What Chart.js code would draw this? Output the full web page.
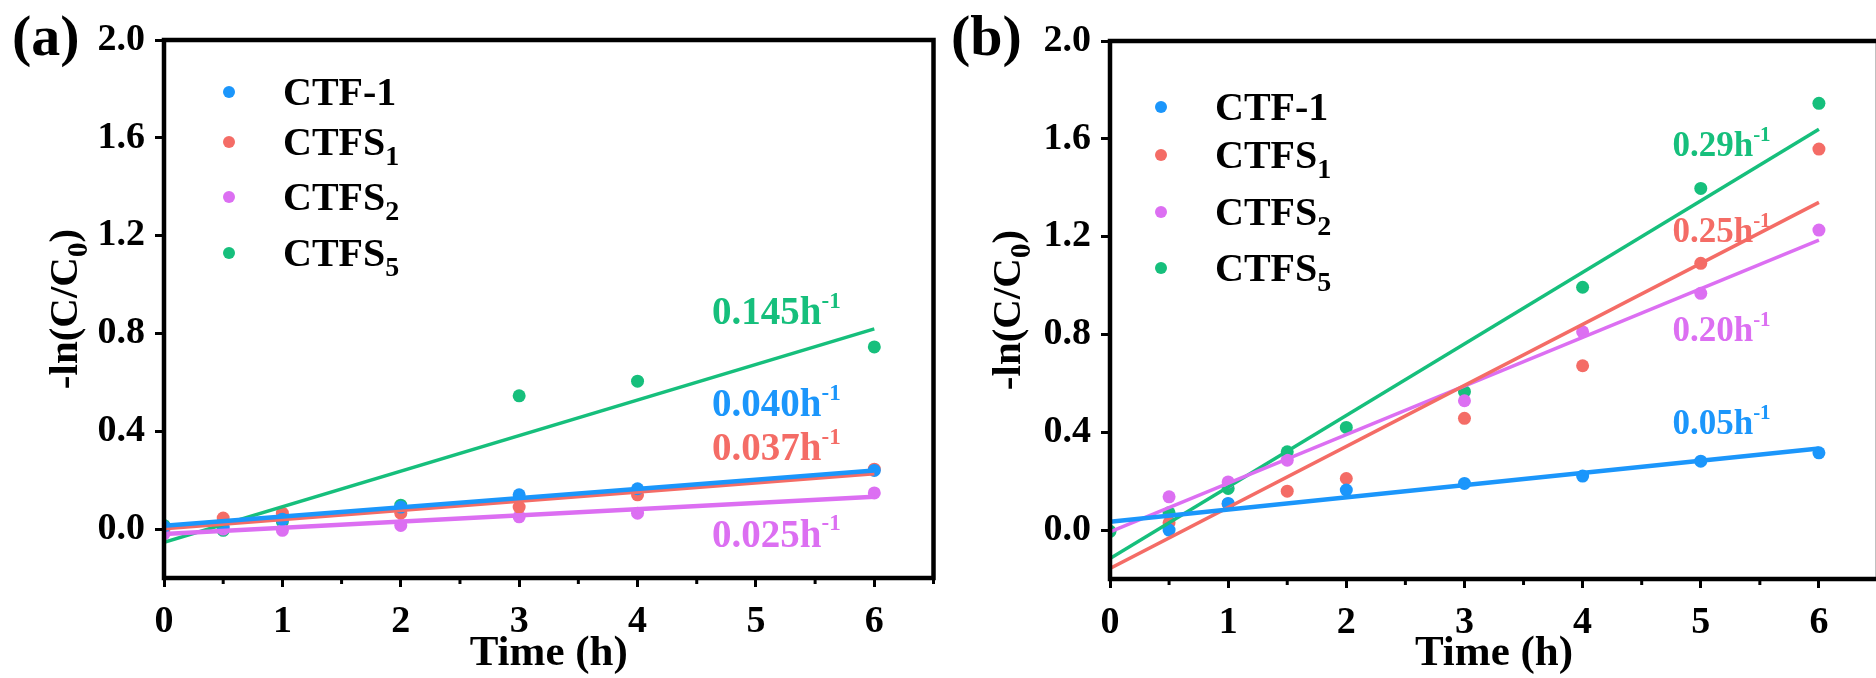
<!DOCTYPE html>
<html>
<head>
<meta charset="utf-8">
<script src="https://cdn.jsdelivr.net/npm/chart.js@4.4.1/dist/chart.umd.min.js"></script>
<style>
  html, body { margin: 0; padding: 0; background: #fff; overflow: hidden; }
  body { width: 1876px; height: 678px; position: relative; }
  .panel { position: absolute; top: 0; width: 940px; height: 678px; }
  #panelA { left: 0; }
  #panelB { left: 946px; }
</style>
</head>
<body>
<div class="panel" id="panelA"><canvas id="chartA" width="940" height="678"></canvas></div>
<div class="panel" id="panelB"><canvas id="chartB" width="940" height="678"></canvas></div>
<script>
// series order: CTF-1, CTFS1, CTFS2, CTFS5
const SERIES_NAMES = ['CTF-1', 'CTFS', 'CTFS', 'CTFS'];
const SERIES_SUBS = ['', '1', '2', '5'];
const SERIES_COLORS = ['#1b96fb', '#f46c66', '#dc6ff2', '#16bf7c'];

const X_TICKS = [0, 1, 2, 3, 4, 5, 6];
const Y_TICKS = [0, 0.4, 0.8, 1.2, 1.6, 2.0];

// (a) -ln(C/C0) vs time
const timeA = [0, 0.5, 1, 2, 3, 4, 6];
const ctf1A = [0.01, 0.01, 0.04, 0.09, 0.14, 0.165, 0.24];
const ctfs1A = [0.0, 0.045, 0.065, 0.065, 0.09, 0.14, 0.245];
const ctfs2A = [-0.02, 0.0, -0.005, 0.015, 0.05, 0.065, 0.148];
const ctfs5A = [0.015, -0.005, 0.03, 0.098, 0.545, 0.605, 0.745];
const fitStartA = [0.014, 0.003, -0.02, -0.054];   // fitted line at t = 0
const fitEndA = [0.24, 0.228, 0.132, 0.819];       // fitted line at t = 6
const ratesA = ['0.040', '0.037', '0.025', '0.145'];

// (b)
const timeB = [0, 0.5, 1, 1.5, 2, 3, 4, 5, 6];
const ctf1B = [null, 0.0, 0.109, null, 0.164, 0.191, 0.221, 0.282, 0.316];
const ctfs1B = [null, 0.03, 0.107, 0.159, 0.211, 0.457, 0.672, 1.091, 1.558];
const ctfs2B = [null, 0.136, 0.197, 0.286, null, 0.529, 0.811, 0.968, 1.227];
const ctfs5B = [-0.005, 0.071, 0.17, 0.32, 0.42, 0.566, 0.993, 1.397, 1.745];
const fitStartB = [0.034, -0.157, -0.007, -0.116];
const fitEndB = [0.334, 1.34, 1.186, 1.639];
const ratesB = ['0.05', '0.25', '0.20', '0.29'];

const FONT = '"Liberation Serif", "Times New Roman", serif';

// draws text made of [text, kind] pieces; kind: 'n' normal, 'sub', 'sup'
function richWidth(ctx, pieces, size) {
    let w = 0;
    pieces.forEach(([t, k]) => {
        ctx.font = 'bold ' + (k === 'n' ? size : Math.round(size * (k === 'sub' ? 0.7 : 0.6))) + 'px ' + FONT;
        w += ctx.measureText(t).width;
    });
    return w;
}
function drawRich(ctx, pieces, x, cy, size, color) {
    const base = cy + size * 0.33;
    ctx.fillStyle = color;
    ctx.textBaseline = 'alphabetic';
    ctx.textAlign = 'left';
    pieces.forEach(([t, k]) => {
        let s = size, dy = 0;
        if (k === 'sub') { s = Math.round(size * 0.7); dy = size * 0.25; }
        if (k === 'sup') { s = Math.round(size * 0.6); dy = -size * 0.42; }
        ctx.font = 'bold ' + s + 'px ' + FONT;
        ctx.fillText(t, x, base + dy);
        x += ctx.measureText(t).width;
    });
}

const decorPlugin = {
    id: 'decor',
    afterDraw(chart, args, o) {
        const ctx = chart.ctx, area = chart.chartArea;
        const xs = chart.scales.x, ys = chart.scales.y;
        ctx.save();
        ctx.strokeStyle = '#000';
        // minor ticks on the time axis
        ctx.lineWidth = 3;
        for (let v = 0.5; v <= 6.5; v += 1) {
            const px = xs.getPixelForValue(v);
            ctx.beginPath(); ctx.moveTo(px, area.bottom); ctx.lineTo(px, area.bottom + 6); ctx.stroke();
        }
        // frame
        ctx.lineWidth = 4.5;
        ctx.strokeRect(area.left, area.top, area.right - area.left, area.bottom - area.top);

        // panel tag
        ctx.fillStyle = '#000';
        ctx.font = 'bold 58px ' + FONT;
        ctx.textBaseline = 'middle';
        ctx.textAlign = 'left';
        ctx.fillText(o.tag, o.tagX, 40);

        // y title -ln(C/C0)
        const yt = [['-ln(C/C', 'n'], ['0', 'sub'], [')', 'n']];
        const tw = richWidth(ctx, yt, 41);
        ctx.save();
        ctx.translate(o.yTitleX, (area.top + area.bottom) / 2);
        ctx.rotate(-Math.PI / 2);
        drawRich(ctx, yt, -tw / 2, 0, 41, '#000');
        ctx.restore();

        // legend
        SERIES_NAMES.forEach((name, i) => {
            const my = area.top + o.legendY[i];
            ctx.fillStyle = SERIES_COLORS[i];
            ctx.beginPath();
            ctx.arc(area.left + o.legendX, my, 6, 0, Math.PI * 2);
            ctx.fill();
            const pieces = [[name, 'n']];
            if (SERIES_SUBS[i]) pieces.push([SERIES_SUBS[i], 'sub']);
            drawRich(ctx, pieces, area.left + o.legendTextX, my, 40, '#000');
        });

        // rate constants
        o.rates.forEach((r, i) => {
            drawRich(ctx, [[r + 'h', 'n'], ['-1', 'sup']],
                xs.getPixelForValue(o.rateX), ys.getPixelForValue(o.rateY[i]), o.rateSize, SERIES_COLORS[i]);
        });
        ctx.restore();
    }
};

function buildDatasets(time, series, fitStart, fitEnd, lineWidth) {
    const sets = [];
    series.forEach((vals, i) => {
        sets.push({
            label: SERIES_NAMES[i] + SERIES_SUBS[i],
            data: time.map((t, j) => ({ x: t, y: vals[j] })).filter(p => p.y !== null),
            backgroundColor: SERIES_COLORS[i],
            borderWidth: 0,
            pointRadius: 6.5,
            order: 2
        });
    });
    series.forEach((vals, i) => {
        sets.push({
            label: 'fit ' + SERIES_NAMES[i] + SERIES_SUBS[i],
            data: [{ x: 0, y: fitStart[i] }, { x: 6, y: fitEnd[i] }],
            showLine: true,
            borderColor: SERIES_COLORS[i],
            borderWidth: lineWidth[i],
            pointRadius: 0,
            order: 1
        });
    });
    return sets;
}

function makeChart(id, datasets, pad, axisHeight, decor) {
    const tickFont = { family: FONT, size: 38, weight: 'bold' };
    return new Chart(document.getElementById(id).getContext('2d'), {
        type: 'scatter',
        data: { datasets },
        plugins: [decorPlugin],
        options: {
            responsive: false,
            animation: false,
            devicePixelRatio: 1,
            layout: { padding: pad },
            scales: {
                x: {
                    type: 'linear', min: 0, max: 6.5,
                    afterBuildTicks: s => { s.ticks = X_TICKS.map(v => ({ value: v })); },
                    afterFit: s => { s.height = axisHeight; },
                    border: { display: false },
                    grid: { drawOnChartArea: false, drawTicks: true, tickLength: 9, tickWidth: 3, tickColor: '#000' },
                    ticks: { font: tickFont, color: '#000', padding: 12, maxRotation: 0, callback: v => String(v) },
                    title: { display: true, text: 'Time (h)', color: '#000',
                        font: { family: FONT, size: 43, weight: 'bold', lineHeight: 1.1 }, padding: { top: 0, bottom: 0 } }
                },
                y: {
                    type: 'linear', min: -0.2, max: 2.0,
                    afterBuildTicks: s => { s.ticks = Y_TICKS.map(v => ({ value: v })); },
                    afterFit: s => { s.width = 164; },
                    border: { display: false },
                    grid: { drawOnChartArea: false, drawTicks: true, tickLength: 9, tickWidth: 3, tickColor: '#000' },
                    ticks: { font: tickFont, color: '#000', padding: 10, callback: v => v.toFixed(1) }
                }
            },
            plugins: {
                legend: { display: false },
                tooltip: { enabled: false },
                decor
            }
        }
    });
}

makeChart('chartA',
    buildDatasets(timeA, [ctf1A, ctfs1A, ctfs2A, ctfs5A], fitStartA, fitEndA, [4.5, 4.5, 4.5, 3.5]),
    { left: 0, right: 6, top: 40, bottom: 0 }, 100,
    { tag: '(a)', tagX: 12, yTitleX: 63, legendX: 65, legendTextX: 119,
      legendY: [52, 102, 157, 213], rates: ratesA, rateX: 4.63, rateY: [0.515, 0.335, -0.02, 0.89], rateSize: 39 });

makeChart('chartB',
    buildDatasets(timeB, [ctf1B, ctfs1B, ctfs2B, ctfs5B], fitStartB, fitEndB, [4.5, 3.5, 3.5, 3.5]),
    { left: 0, right: 8, top: 41, bottom: 0 }, 99,
    { tag: '(b)', tagX: 5, yTitleX: 60, legendX: 51, legendTextX: 105,
      legendY: [66, 114, 171, 227], rates: ratesB, rateX: 4.76, rateY: [0.44, 1.227, 0.822, 1.579], rateSize: 35 });
</script>
</body>
</html>
